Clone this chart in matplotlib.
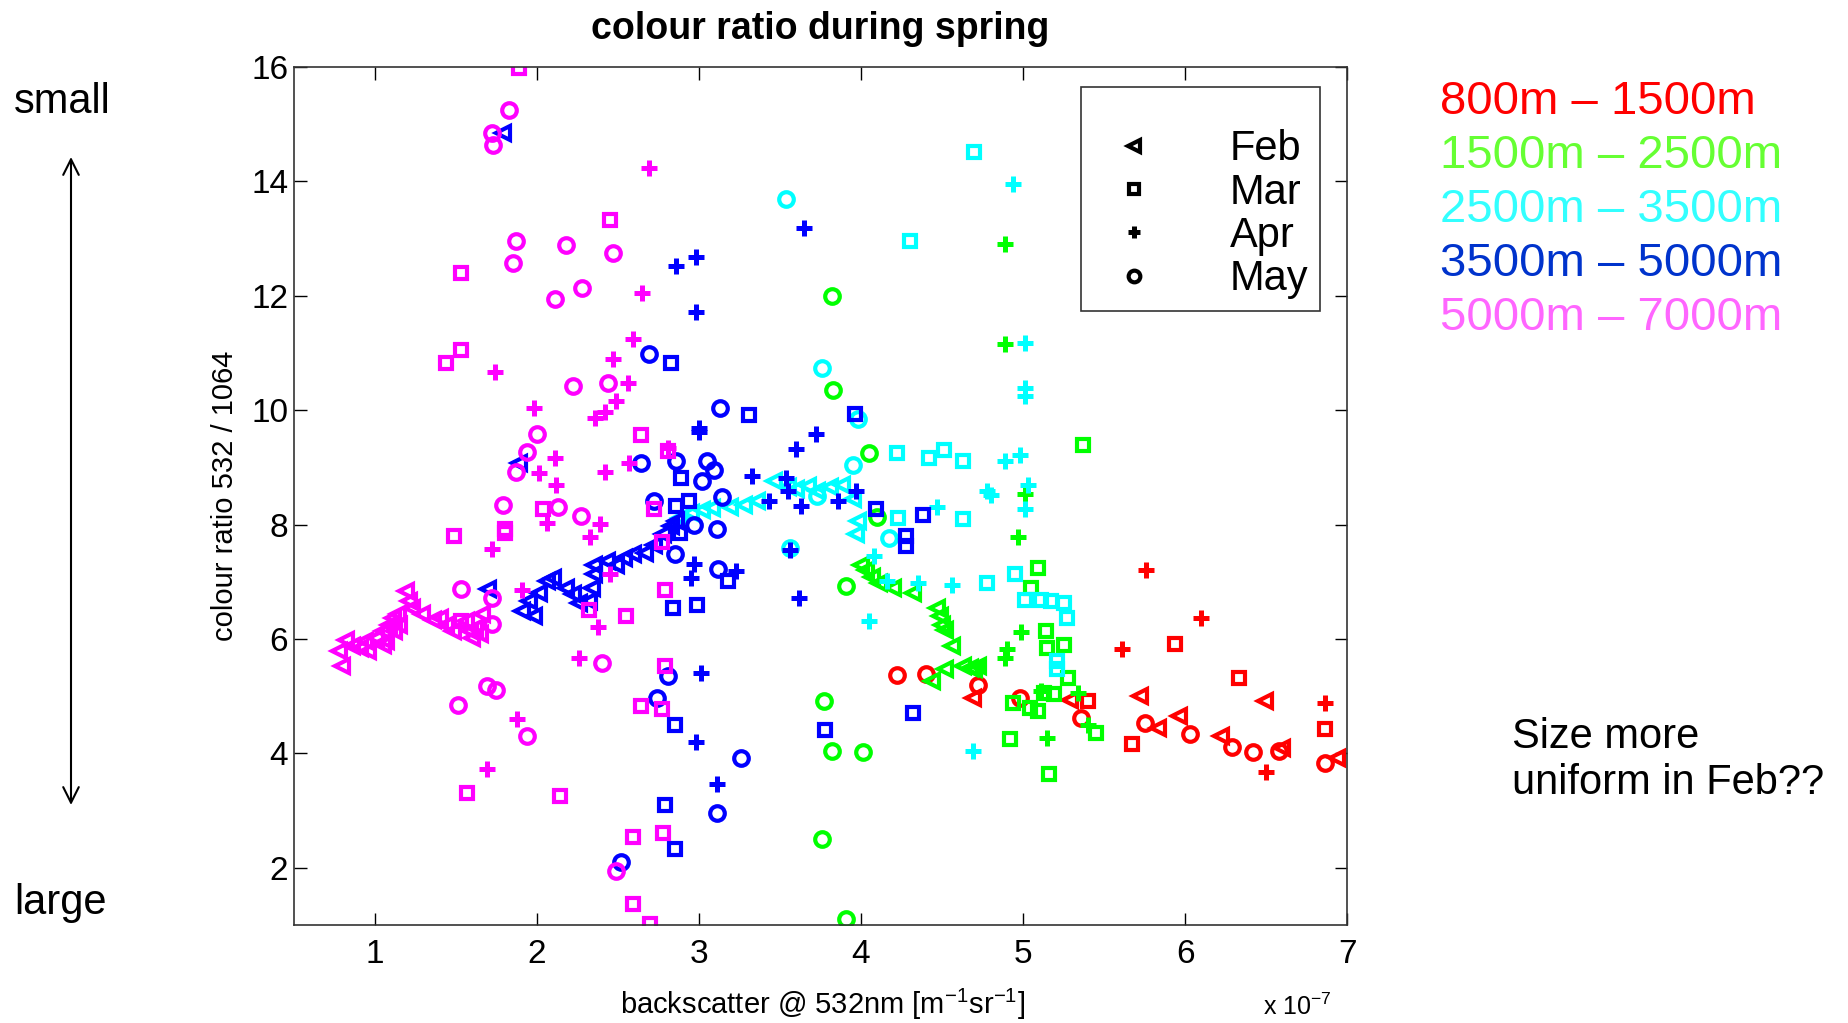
import numpy as np
import matplotlib
matplotlib.use('Agg')
import matplotlib.pyplot as plt
from matplotlib.lines import Line2D

# backscatter @ 532nm in units of 1e-7 m-1 sr-1, colour ratio 532/1064
# one list of (backscatter, ratio) pairs per altitude band and month

red_feb = [(4.69, 4.97), (5.29, 4.94), (5.72, 5.00), (5.83, 4.44), (5.96, 4.65),
           (6.22, 4.30), (6.49, 4.92), (6.60, 4.10), (6.94, 3.92)]
red_mar = [(5.40, 4.91), (5.67, 4.17), (5.94, 5.91), (6.33, 5.32), (6.86, 4.43)]
red_apr = [(5.76, 7.20), (6.10, 6.37), (5.61, 5.83), (6.50, 3.68), (6.86, 4.88)]
red_may = [(4.22, 5.37), (4.40, 5.38), (4.72, 5.20), (4.98, 4.97), (5.36, 4.62),
           (5.75, 4.53), (6.03, 4.34), (6.29, 4.11), (6.42, 4.03), (6.58, 4.04),
           (6.86, 3.83)]

green_feb = [(4.00, 7.30), (4.03, 7.20), (4.07, 7.08), (4.11, 6.98), (4.20, 6.89),
             (4.32, 6.81), (4.47, 6.54), (4.49, 6.40), (4.50, 6.25), (4.52, 6.15),
             (4.56, 5.87), (4.52, 5.47), (4.44, 5.26), (4.63, 5.52), (4.67, 5.50),
             (4.70, 5.48), (4.72, 5.52)]
green_mar = [(5.37, 9.40), (5.09, 7.24), (5.05, 6.89), (5.14, 6.14), (5.15, 5.84),
             (5.25, 5.89), (5.28, 5.32), (5.19, 5.03), (5.04, 4.80), (4.94, 4.88),
             (5.09, 4.74), (5.45, 4.36), (4.92, 4.26), (5.16, 3.64), (5.13, 5.05)]
green_apr = [(4.89, 12.90), (4.89, 11.15), (5.01, 8.54), (4.97, 7.78), (4.99, 6.12),
             (4.90, 5.82), (4.89, 5.67), (5.11, 5.09), (5.34, 5.06), (5.15, 4.27),
             (5.40, 4.50)]
green_may = [(3.82, 12.00), (3.83, 10.35), (4.05, 9.25), (4.10, 8.13), (3.91, 6.92),
             (3.77, 4.91), (3.82, 4.04), (4.01, 4.03), (3.76, 2.51), (3.91, 1.10)]

cyan_feb = [(2.88, 8.12), (2.95, 8.20), (3.02, 8.26), (3.08, 8.29), (3.19, 8.30),
            (3.28, 8.34), (3.36, 8.41), (3.46, 8.76), (3.55, 8.66), (3.60, 8.62),
            (3.67, 8.67), (3.73, 8.59), (3.81, 8.66), (3.88, 8.70), (3.95, 8.44),
            (3.98, 8.06), (3.97, 7.83)]
cyan_mar = [(4.70, 14.52), (4.30, 12.96), (4.22, 9.26), (4.42, 9.17), (4.51, 9.30),
            (4.63, 9.11), (4.23, 8.12), (4.63, 8.09), (4.78, 6.98), (4.95, 7.13),
            (5.01, 6.69), (5.11, 6.69), (5.17, 6.66), (5.25, 6.63), (5.27, 6.36),
            (5.21, 5.61), (5.21, 5.47)]
cyan_apr = [(4.94, 13.95), (5.01, 11.17), (5.01, 10.39), (5.01, 10.25), (4.89, 9.12),
            (4.98, 9.21), (4.78, 8.58), (4.80, 8.52), (5.03, 8.70), (5.01, 8.27),
            (4.47, 8.31), (4.08, 7.45), (4.16, 7.01), (4.35, 6.98), (4.56, 6.95),
            (4.05, 6.31), (4.69, 4.04)]
cyan_may = [(3.54, 13.69), (3.76, 10.74), (3.98, 9.84), (3.95, 9.05), (4.17, 7.77),
            (3.56, 7.59), (3.73, 8.50)]

blue_feb = [(1.79, 14.85), (1.89, 9.08), (1.70, 6.87), (1.91, 6.49), (1.98, 6.40),
            (1.95, 6.66), (2.01, 6.81), (2.06, 7.01), (2.10, 7.07), (2.18, 6.89),
            (2.22, 6.78), (2.26, 6.63), (2.32, 6.66), (2.34, 6.89), (2.35, 7.13),
            (2.35, 7.30), (2.43, 7.36), (2.49, 7.30), (2.54, 7.42), (2.59, 7.48),
            (2.67, 7.50), (2.72, 7.65), (2.78, 7.83), (2.83, 7.97), (2.86, 8.06)]
blue_mar = [(2.83, 10.83), (3.31, 9.91), (3.96, 9.94), (2.89, 8.82), (2.94, 8.41),
            (2.86, 8.32), (4.09, 8.27), (4.38, 8.16), (4.28, 7.80), (4.28, 7.62),
            (2.88, 7.86), (3.18, 7.02), (2.84, 6.54), (2.99, 6.60), (2.85, 4.50),
            (3.78, 4.41), (4.32, 4.70), (2.79, 3.09), (2.85, 2.33)]
blue_apr = [(2.86, 12.52), (2.98, 12.68), (3.65, 13.18), (2.98, 11.72), (3.00, 9.69),
            (3.00, 9.62), (3.72, 9.58), (3.60, 9.32), (3.33, 8.85), (3.54, 8.82),
            (3.55, 8.59), (3.43, 8.42), (3.63, 8.32), (3.86, 8.42), (3.97, 8.59),
            (3.56, 7.56), (2.97, 7.31), (2.95, 7.07), (3.23, 7.19), (3.62, 6.72),
            (3.01, 5.40), (2.98, 4.20), (3.11, 3.47)]
blue_may = [(2.69, 10.98), (3.13, 10.04), (2.64, 9.08), (2.86, 9.11), (3.05, 9.11),
            (3.09, 8.96), (3.02, 8.76), (2.72, 8.41), (3.14, 8.48), (2.97, 8.00),
            (3.11, 7.92), (2.85, 7.48), (3.12, 7.22), (2.81, 5.35), (2.74, 4.97),
            (3.26, 3.92), (3.11, 2.96), (2.52, 2.10)]

magenta_feb = [(0.80, 5.52), (0.78, 5.79), (0.82, 5.99), (0.86, 5.87), (0.91, 5.84),
               (0.96, 5.79), (0.94, 5.96), (1.01, 6.02), (1.05, 6.14), (1.07, 5.96),
               (1.09, 6.25), (1.11, 6.37), (1.12, 6.14), (1.14, 6.43), (1.15, 6.25),
               (1.19, 6.84), (1.21, 6.66), (1.23, 6.54), (1.29, 6.43), (1.36, 6.34),
               (1.40, 6.37), (1.44, 6.25), (1.48, 6.14), (1.56, 6.31), (1.59, 6.14),
               (1.60, 6.02), (1.65, 6.08), (1.66, 6.43), (1.62, 6.19), (1.05, 5.90)]
magenta_mar = [(1.89, 15.99), (2.45, 13.33), (1.53, 12.39), (1.53, 11.05), (1.44, 10.82),
               (2.64, 9.56), (2.81, 9.29), (2.04, 8.28), (1.80, 7.92), (1.80, 7.85),
               (1.49, 7.80), (2.72, 8.27), (2.77, 7.70), (2.79, 6.85), (2.55, 6.40),
               (2.32, 6.50), (1.53, 6.32), (2.79, 5.52), (2.64, 4.82), (2.77, 4.78),
               (1.57, 3.31), (2.14, 3.25), (2.59, 2.53), (2.78, 2.61), (2.59, 1.36),
               (2.70, 1.01)]
magenta_apr = [(2.69, 14.24), (2.65, 12.05), (2.59, 11.25), (1.74, 10.67), (2.47, 10.89),
               (2.56, 10.47), (1.98, 10.04), (2.49, 10.16), (2.36, 9.87), (2.42, 9.96),
               (2.01, 8.91), (2.11, 9.16), (2.12, 8.69), (2.81, 9.34), (2.57, 9.08),
               (2.42, 8.92), (2.06, 8.03), (2.39, 8.01), (2.33, 7.78), (1.72, 7.57),
               (2.45, 7.13), (1.91, 6.85), (2.38, 6.21), (2.26, 5.67), (1.88, 4.61),
               (1.69, 3.72)]
magenta_may = [(1.83, 15.25), (1.72, 14.84), (1.73, 14.64), (1.87, 12.96), (2.18, 12.89),
               (2.47, 12.75), (1.85, 12.58), (2.28, 12.14), (2.11, 11.94), (2.22, 10.42),
               (2.44, 10.47), (2.00, 9.58), (1.94, 9.27), (1.87, 8.92), (1.79, 8.34),
               (2.13, 8.31), (2.27, 8.15), (1.53, 6.88), (1.72, 6.72), (1.72, 6.26),
               (2.40, 5.58), (1.69, 5.17), (1.75, 5.11), (1.51, 4.85), (1.94, 4.30),
               (2.49, 1.95)]

months = ['Feb', 'Mar', 'Apr', 'May']
bands = ['800m – 1500m', '1500m – 2500m', '2500m – 3500m', '3500m – 5000m', '5000m – 7000m']
x_ticks = [1, 2, 3, 4, 5, 6, 7]
y_ticks = [2, 4, 6, 8, 10, 12, 14, 16]

plt.rcParams['font.family'] = ['Liberation Sans', 'DejaVu Sans']
plt.rcParams['mathtext.fontset'] = 'custom'
plt.rcParams['mathtext.rm'] = 'Liberation Sans'
plt.rcParams['mathtext.it'] = 'Liberation Sans'

marker_colors = ['#ff0000', '#00ff00', '#00ffff', '#0000ff', '#ff00ff']
text_colors = ['#ff0000', '#66ff33', '#33ffff', '#0033cc', '#ff66ff']
month_style = {'Feb': ('<', 10.5, 3.0), 'Mar': ('s', 9, 3.0),
               'Apr': ('+', 11, 3.6), 'May': ('o', 10.5, 3.0)}

groups = [
    (red_feb, red_mar, red_apr, red_may),
    (green_feb, green_mar, green_apr, green_may),
    (cyan_feb, cyan_mar, cyan_apr, cyan_may),
    (blue_feb, blue_mar, blue_apr, blue_may),
    (magenta_feb, magenta_mar, magenta_apr, magenta_may),
]

fig = plt.figure(figsize=(18.48, 10.23), dpi=100)
ax = fig.add_axes([0.159, 0.0958, 0.570, 0.8387])

for color, grp in zip(marker_colors, groups):
    for month, pts in zip(months, grp):
        pts = np.array(pts)
        mk, ms, mew = month_style[month]
        ax.plot(pts[:, 0], pts[:, 1], linestyle='none', marker=mk, markersize=ms,
                markerfacecolor='none', markeredgecolor=color, markeredgewidth=mew)

ax.set_xlim(0.5, 7)
ax.set_ylim(1, 16)
ax.set_xticks(x_ticks)
ax.set_yticks(y_ticks)
ax.tick_params(direction='in', length=9, width=1, top=True, right=True,
               labelsize=24, pad=10)
ax.tick_params(axis='y', pad=4)
for s in ax.spines.values():
    s.set_linewidth(1.2)
    s.set_color('#333333')

ax.set_title('colour ratio during spring', fontsize=27, fontweight='bold', pad=20)
ax.set_xlabel(r'backscatter @ 532nm [m$^{-1}$sr$^{-1}$]', fontsize=21, va='center')
ax.xaxis.set_label_coords(0.502, -0.092)
ax.set_ylabel('colour ratio 532 / 1064', fontsize=21, va='center')
ax.yaxis.set_label_coords(-0.065, 0.5)

fig.text(1263 / 1848, 1 - 1007 / 1023, r'x 10$^{-7}$', fontsize=18, va='center')

# month legend with black markers
handles = [Line2D([], [], linestyle='none', marker=month_style[m][0],
                  markersize=month_style[m][1] * 0.8, markerfacecolor='none',
                  markeredgecolor='black', markeredgewidth=month_style[m][2])
           for m in months]
leg = ax.legend(handles, months, loc='upper right', bbox_to_anchor=(0.974, 0.977),
                fontsize=30, frameon=True, fancybox=False, edgecolor='black',
                handlelength=2.0, handletextpad=1.3, labelspacing=0.08,
                borderpad=0.27, borderaxespad=0, title=' ', title_fontsize=21)
leg.get_frame().set_linewidth(1.2)

# altitude band labels on the right
for i, (band, c) in enumerate(zip(bands, text_colors)):
    fig.text(1440 / 1848, 1 - (102 + 54 * i) / 1023, band, color=c, fontsize=34,
             va='center')

fig.text(1512 / 1848, 1 - 737 / 1023, 'Size more', fontsize=30, va='center')
fig.text(1512 / 1848, 1 - 783 / 1023, 'uniform in Feb??', fontsize=30, va='center')

fig.text(14 / 1848, 1 - 102 / 1023, 'small', fontsize=30, va='center')
fig.text(14 / 1848, 1 - 903 / 1023, 'large', fontsize=30, va='center')
ax.annotate('', xy=(71 / 1848, 1 - 157 / 1023), xytext=(71 / 1848, 1 - 805 / 1023),
            xycoords='figure fraction', textcoords='figure fraction',
            arrowprops=dict(arrowstyle='<->', lw=1.5, color='black',
                            mutation_scale=28, shrinkA=0, shrinkB=0))

fig.savefig('out.png', dpi=100)
